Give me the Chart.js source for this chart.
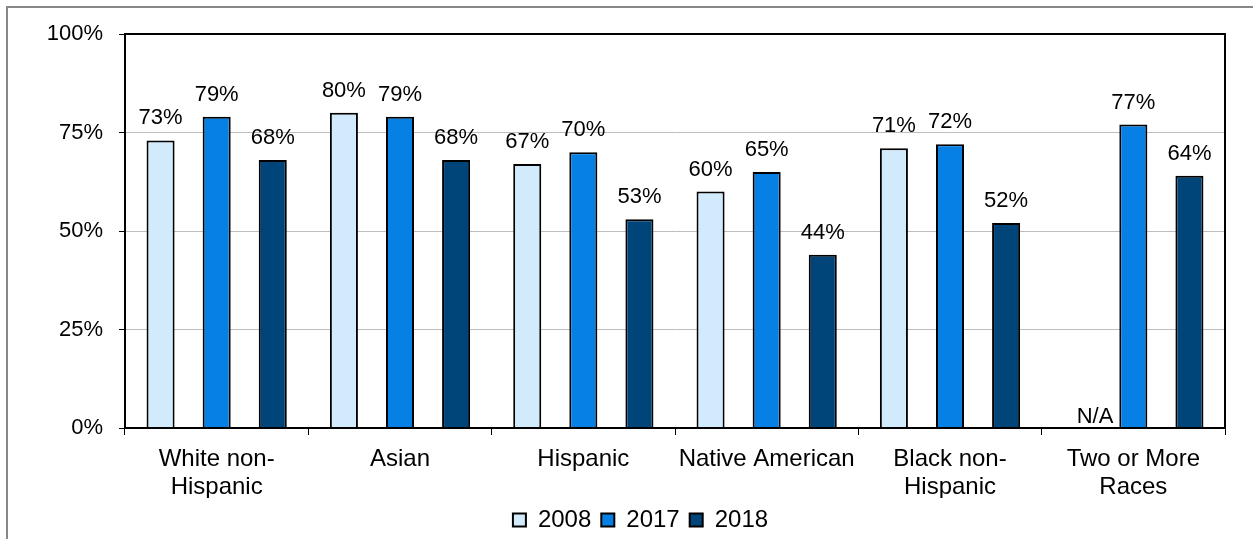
<!DOCTYPE html>
<html>
<head>
<meta charset="utf-8">
<script src="https://cdn.jsdelivr.net/npm/chart.js@4"></script>
<style>
  html, body { margin: 0; padding: 0; background: #fff; overflow: hidden; }
  #frame { position: absolute; left: 6px; top: 6px; width: 1300px; height: 600px; border: 2px solid #878787; }
  #wrap { position: absolute; left: 0; top: 0; width: 1253px; height: 539px; }
</style>
</head>
<body>
<div id="frame"></div>
<div id="wrap"><canvas id="chart" width="1253" height="539"></canvas></div>
<script>
const categories = [
  ['White non-', 'Hispanic'],
  'Asian',
  'Hispanic',
  'Native American',
  ['Black non-', 'Hispanic'],
  ['Two or More', 'Races']
];
const years = ['2008', '2017', '2018'];
const values2008 = [73, 80, 67, 60, 71, null];
const values2017 = [79, 79, 70, 65, 72, 77];
const values2018 = [68, 68, 53, 44, 52, 64];
const yTicks = [0, 25, 50, 75, 100];

const colors = ['#d1eafc', '#0680e4', '#00457a'];
const FONT = '"Liberation Sans", Arial, sans-serif';

// value labels above bars, plus N/A where there is no bar
const barLabels = {
  id: 'barLabels',
  afterDatasetsDraw(chart) {
    const ctx = chart.ctx;
    ctx.save();
    ctx.font = '22px ' + FONT;
    ctx.fillStyle = '#000';
    ctx.textBaseline = 'alphabetic';
    chart.data.datasets.forEach((ds, di) => {
      const meta = chart.getDatasetMeta(di);
      meta.data.forEach((bar, i) => {
        const v = ds.data[i];
        if (v == null) {
          const next = chart.getDatasetMeta(di + 1).data[i];
          ctx.textAlign = 'right';
          ctx.fillText('N/A', next.x - next.width / 2 - 6, chart.chartArea.bottom - 5);
          return;
        }
        ctx.textAlign = 'center';
        ctx.fillText(v + '%', bar.x, bar.y - 16);
      });
    });
    ctx.restore();
  }
};

// black plot box, legend nudged right like the original
const plotBox = {
  id: 'plotBox',
  afterLayout(chart) {
    chart.legend.left += 28;
    chart.legend.right += 28;
  },
  afterDraw(chart) {
    const a = chart.chartArea;
    const ctx = chart.ctx;
    ctx.save();
    ctx.strokeStyle = '#000';
    ctx.lineWidth = 2;
    ctx.strokeRect(a.left, a.top, a.right - a.left, a.bottom - a.top);
    ctx.restore();
  }
};

new Chart(document.getElementById('chart').getContext('2d'), {
  type: 'bar',
  data: {
    labels: categories,
    datasets: [
      { label: years[0], data: values2008, backgroundColor: colors[0], borderColor: '#000', borderWidth: 2 },
      { label: years[1], data: values2017, backgroundColor: colors[1], borderColor: '#000', borderWidth: 2 },
      { label: years[2], data: values2018, backgroundColor: colors[2], borderColor: '#000', borderWidth: 2 }
    ]
  },
  options: {
    responsive: false,
    animation: false,
    layout: { padding: { top: 34, right: 28, left: 0, bottom: -3 } },
    datasets: { bar: { categoryPercentage: 0.918, barPercentage: 0.5 } },
    plugins: {
      tooltip: { enabled: false },
      legend: {
        position: 'bottom',
        labels: {
          boxWidth: 13,
          boxHeight: 13,
          padding: 10,
          color: '#000',
          font: { family: FONT, size: 24 }
        }
      }
    },
    scales: {
      x: {
        grid: { drawOnChartArea: false, tickLength: 7, tickColor: '#000', offset: true },
        border: { color: '#000', width: 2 },
        ticks: {
          color: '#000',
          padding: 11,
          maxRotation: 0,
          autoSkip: false,
          font: { family: FONT, size: 24, lineHeight: 1.15 }
        },
        afterFit(scale) { scale.height = 70; }
      },
      y: {
        min: 0,
        max: 100,
        afterBuildTicks(scale) { scale.ticks = yTicks.map(v => ({ value: v })); },
        grid: {
          color: ctx => (ctx.tick && ctx.tick.value > 0 && ctx.tick.value < 100) ? '#bdbdbd' : 'rgba(0,0,0,0)',
          tickColor: '#000',
          tickLength: 6,
          lineWidth: 1
        },
        border: { color: '#000', width: 2 },
        ticks: {
          color: '#000',
          padding: 16,
          font: { family: FONT, size: 22 },
          callback: v => v + '%'
        },
        afterFit(scale) { scale.width = 125; }
      }
    }
  },
  plugins: [barLabels, plotBox]
});
</script>
</body>
</html>
